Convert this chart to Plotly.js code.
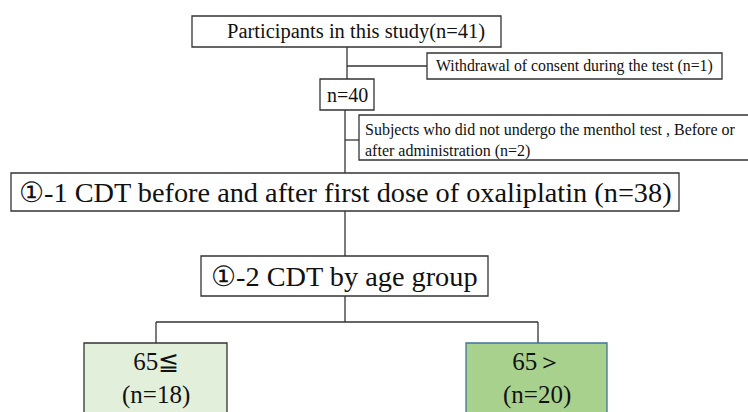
<!DOCTYPE html>
<html>
<head>
<meta charset="utf-8">
<script src="https://cdn.plot.ly/plotly-3.0.1.min.js"></script>
<style>
  html, body { margin: 0; padding: 0; background: #fff; }
  #flow { width: 748px; height: 412px; }
</style>
</head>
<body>
<div id="flow"></div>
<script>
// flowchart content
const boxLabels = [
  'Participants in this study(n=41)',
  'Withdrawal of consent during the test (n=1)',
  'n=40',
  'Subjects who did not undergo the menthol test , Before or<br>after administration (n=2)',
  '\u2460-1 CDT before and after first dose of oxaliplatin (n=38)',
  '\u2460-2 CDT by age group',
  '65\u2266<br>(n=18)',
  '65\uFF1E<br>(n=20)'
];
const counts = [41, 1, 40, 2, 38, 38, 18, 20];

// box geometry in page pixels, text anchor and font size
const boxes = [
  {x0: 192, x1: 501, y0: 16, y1: 47, tx: 356, ty: 31, size: 20.5},
  {x0: 427, x1: 722, y0: 53, y1: 79, tx: 574, ty: 66, size: 15.8},
  {x0: 320, x1: 374, y0: 79, y1: 110, tx: 347, ty: 95, size: 20},
  {x0: 359, x1: 760, y0: 115, y1: 160, tx: 364, ty: 140, size: 16, left: true},
  {x0: 11, x1: 679, y0: 173, y1: 211, tx: 345, ty: 192, size: 28.3},
  {x0: 201, x1: 488, y0: 256, y1: 296, tx: 344, ty: 276, size: 28.3},
  {x0: 84, x1: 227, y0: 343, y1: 430, tx: 156, ty: 378, size: 25, fill: '#e2efda'},
  {x0: 466, x1: 607, y0: 343, y1: 430, tx: 537, ty: 378, size: 25, fill: '#a9d18e', line: '#41719c'}
];

// connector lines [x0, y0, x1, y1]
const links = [
  [347, 47, 347, 79],
  [347, 66, 427, 66],
  [345, 110, 345, 173],
  [345, 140, 359, 140],
  [345, 211, 345, 256],
  [345, 296, 345, 322],
  [156, 322, 538, 322],
  [156, 322, 156, 343],
  [538, 322, 538, 343]
];

const shapes = [];
links.forEach(l => shapes.push({
  type: 'line', xref: 'x', yref: 'y',
  x0: l[0], y0: l[1], x1: l[2], y1: l[3],
  line: {color: '#333', width: 1.3}
}));
boxes.forEach(b => shapes.push({
  type: 'rect', xref: 'x', yref: 'y',
  x0: b.x0, x1: b.x1, y0: b.y0, y1: b.y1,
  fillcolor: b.fill || '#ffffff',
  line: {color: b.line || '#333', width: 1.3}
}));

const annotations = boxLabels.map((t, i) => {
  const b = boxes[i];
  return {
    x: b.tx, y: b.ty, xref: 'x', yref: 'y',
    text: t, showarrow: false,
    xanchor: b.left ? 'left' : 'center', yanchor: 'middle',
    align: b.left ? 'left' : 'center',
    borderpad: 0,
    font: {family: 'Liberation Serif, DejaVu Serif, serif', size: b.size, color: '#111'}
  };
});

const layout = {
  width: 748, height: 412,
  margin: {l: 0, r: 0, t: 0, b: 0},
  paper_bgcolor: '#fff', plot_bgcolor: '#fff',
  showlegend: false,
  xaxis: {range: [0, 748], visible: false, fixedrange: true},
  yaxis: {range: [412, 0], visible: false, fixedrange: true},
  shapes: shapes,
  annotations: annotations
};

Plotly.newPlot('flow', [{x: [], y: [], type: 'scatter', customdata: counts}], layout, {staticPlot: true});
</script>
</body>
</html>
